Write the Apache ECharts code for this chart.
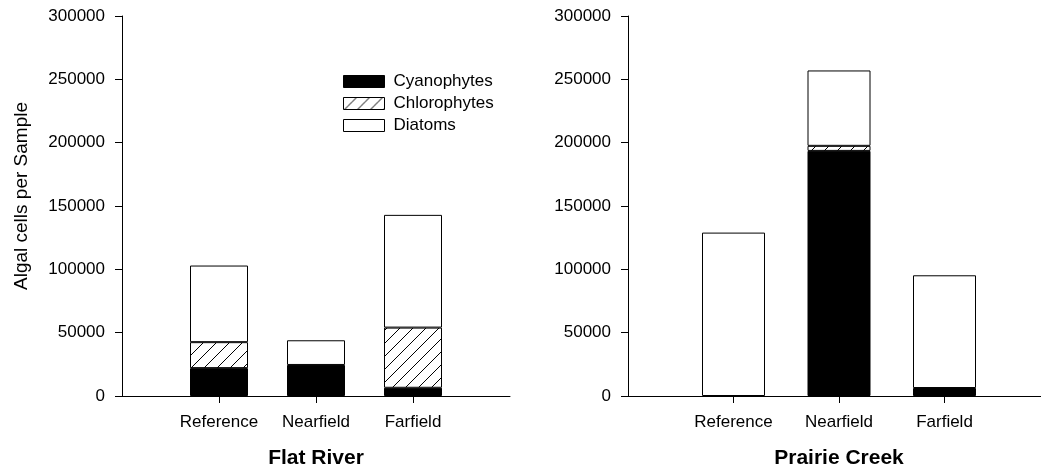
<!DOCTYPE html>
<html>
<head>
<meta charset="utf-8">
<script src="https://cdn.jsdelivr.net/npm/echarts@6/dist/echarts.min.js"></script>
<style>html,body{margin:0;padding:0;background:#fff}#c{width:1041px;height:471px}</style>
</head>
<body>
<div id="c"></div>
<script>
const categories = ['Reference', 'Nearfield', 'Farfield'];
const seriesNames = ['Cyanophytes', 'Chlorophytes', 'Diatoms'];
const yTicks = [0, 50000, 100000, 150000, 200000, 250000, 300000];
// Flat River
const flatCyano = [22000, 24500, 6500];
const flatChloro = [20500, 0, 47500];
const flatDiatoms = [60500, 19500, 89000];
// Prairie Creek
const prairieCyano = [0, 193500, 6300];
const prairieChloro = [0, 4000, 0];
const prairieDiatoms = [129000, 59500, 89000];
const panelTitles = ['Flat River', 'Prairie Creek'];
const yTitle = 'Algal cells per Sample';

const FONT = 'Liberation Sans, Arial, Helvetica, sans-serif';

// hatch pattern
function makeHatch() {
  const s = 13;
  const cv = document.createElement('canvas');
  cv.width = s; cv.height = s;
  const ctx = cv.getContext('2d');
  ctx.fillStyle = '#fff';
  ctx.fillRect(0, 0, s, s);
  ctx.strokeStyle = '#000';
  ctx.lineWidth = 1;
  ctx.beginPath();
  ctx.moveTo(-1, s + 1); ctx.lineTo(s + 1, -1);
  ctx.moveTo(-1, 1); ctx.lineTo(1, -1);
  ctx.moveTo(s - 1, s + 1); ctx.lineTo(s + 1, s - 1);
  ctx.stroke();
  return cv;
}
const hatch = { image: makeHatch(), repeat: 'repeat' };
const fills = ['#000', hatch, '#fff'];

const axisCats = [''].concat(categories, ['']);
function pad(arr) { return [null].concat(arr.map(v => v === 0 ? null : v), [null]); }

const panels = [
  { data: [flatCyano, flatChloro, flatDiatoms], barWidth: 58 },
  { data: [prairieCyano, prairieChloro, prairieDiatoms], barWidth: 63 }
];

const grids = [
  { left: 122, top: 16, width: 388, height: 380, outerBoundsMode: 'none', containLabel: false },
  { left: 628, top: 16, width: 422, height: 380, outerBoundsMode: 'none', containLabel: false }
];

const xAxes = grids.map((g, i) => ({
  type: 'category',
  gridIndex: i,
  data: axisCats,
  boundaryGap: false,
  name: panelTitles[i],
  nameLocation: 'middle',
  nameGap: 52,
  nameTextStyle: { fontFamily: FONT, fontSize: 21, fontWeight: 'bold', color: '#000' },
  axisLine: { show: true, lineStyle: { color: '#000', width: 1 } },
  axisTick: { show: true, length: 7, interval: (idx, val) => val !== '', lineStyle: { color: '#000' } },
  axisLabel: { interval: 0, margin: 18, fontFamily: FONT, fontSize: 17, color: '#000' },
  splitLine: { show: false }
}));

const yAxes = grids.map((g, i) => ({
  type: 'value',
  gridIndex: i,
  min: yTicks[0],
  max: yTicks[yTicks.length - 1],
  interval: yTicks[1] - yTicks[0],
  axisLine: { show: true, lineStyle: { color: '#000', width: 1 } },
  axisTick: { show: true, length: 7, lineStyle: { color: '#000' } },
  axisLabel: { margin: 17, fontFamily: FONT, fontSize: 17, color: '#000', formatter: v => String(v) },
  splitLine: { show: false }
}));

const series = [];
panels.forEach((p, pi) => {
  seriesNames.forEach((name, si) => {
    series.push({
      type: 'bar',
      name: name,
      xAxisIndex: pi,
      yAxisIndex: pi,
      stack: 'p' + pi,
      barWidth: p.barWidth,
      data: pad(p.data[si]),
      itemStyle: { color: fills[si], borderColor: '#000', borderWidth: 1 },
      emphasis: { disabled: true },
      animation: false
    });
  });
});

const chart = echarts.init(document.getElementById('c'), null, { renderer: 'canvas' });
chart.setOption({
  backgroundColor: '#fff',
  animation: false,
  grid: grids,
  xAxis: xAxes,
  yAxis: yAxes,
  graphic: [{
    type: 'text',
    x: 22, y: 196,
    rotation: Math.PI / 2,
    style: { text: yTitle, fontFamily: FONT, fontSize: 19, fill: '#000', align: 'center', verticalAlign: 'middle' }
  }],
  legend: {
    data: seriesNames,
    orient: 'vertical',
    left: 343,
    top: 73,
    padding: 0,
    itemWidth: 41,
    itemHeight: 12,
    itemGap: 5,
    icon: 'rect',
    textStyle: { fontFamily: FONT, fontSize: 17, color: '#000', padding: [0, 0, 0, 4] },
    itemStyle: { borderColor: '#000', borderWidth: 1 },
    selectedMode: false
  },
  series: series
});
</script>
</body>
</html>
